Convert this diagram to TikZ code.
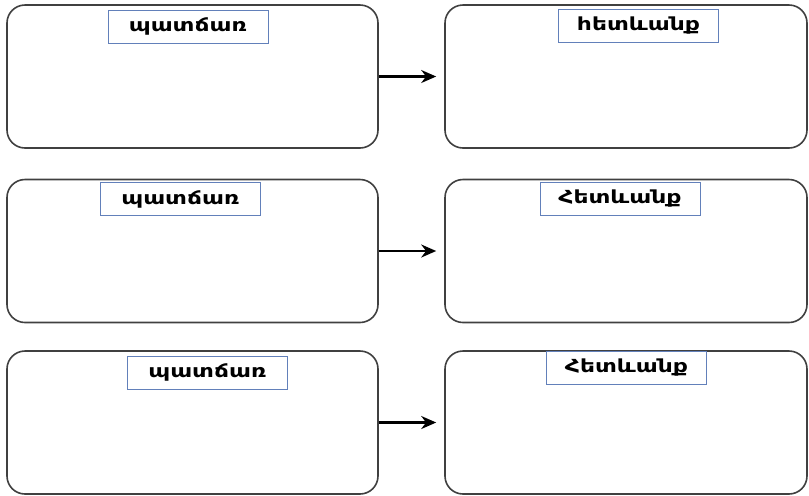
\documentclass[tikz,border=0pt]{standalone}
\usepackage{fontspec}
\newfontfamily\armfont[FakeStretch=1.3]{DejaVu Sans}
\usetikzlibrary{arrows.meta}
\definecolor{tagblue}{RGB}{98,128,186}

\begin{document}
\begin{tikzpicture}[x=0.5pt,y=-0.5pt,
    bigbox/.style={draw=black!75,line width=0.8pt,rounded corners=9pt,minimum height=71.5pt},
    tagbox/.style={draw=tagblue,fill=white,line width=0.5pt,minimum width=80pt,minimum height=16.5pt,font=\armfont\bfseries\fontsize{9}{9}\selectfont},
    arr/.style={-{Stealth[length=7.5pt,width=6.5pt]},line width=1.1pt,shorten >=4pt}]
\useasboundingbox (0,0) rectangle (809,495);
\foreach \r/\y/\xa/\ya/\xb/\yb/\txt in {1/76.5/188/26.5/638.5/26/հետևանք, 2/251/180.5/199/620/199/Հետևանք, 3/422.5/207.5/372.5/626.5/368/Հետևանք}{
  \node[bigbox,minimum width=185.5pt] (c\r) at (192.5,\y) {};
  \node[bigbox,minimum width=181pt] (e\r) at (626,\y) {};
  \node[tagbox] (tc\r) at (\xa,\ya) {պատճառ};
  \node[tagbox] (te\r) at (\xb,\yb) {\txt};
  \draw[arr] (c\r) -- (e\r);
}
\end{tikzpicture}
\end{document}
